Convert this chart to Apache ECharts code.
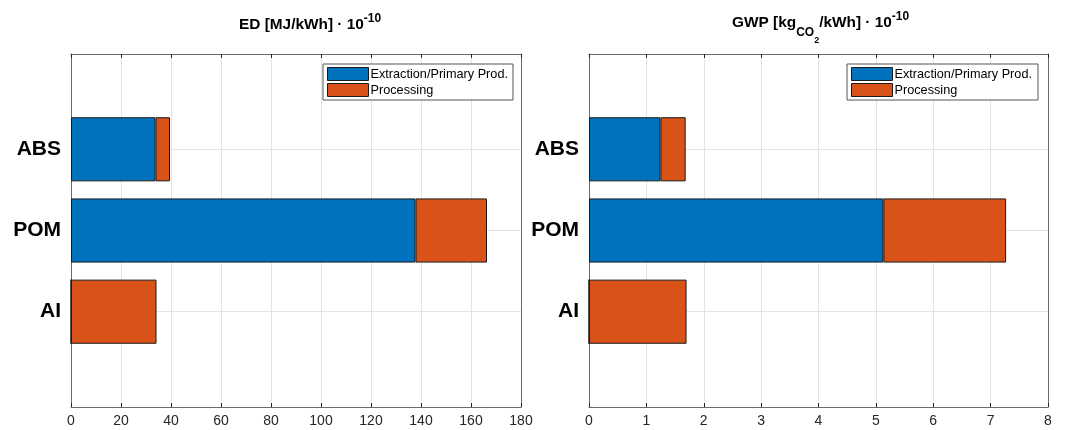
<!DOCTYPE html>
<html>
<head>
<meta charset="utf-8">
<script src="https://cdn.jsdelivr.net/npm/echarts@6/dist/echarts.min.js"></script>
<style>html,body{margin:0;padding:0;background:#fff;}#c{width:1067px;height:430px;}</style>
</head>
<body>
<div id="c"></div>
<script>
const categories = ['AI', 'POM', 'ABS'];
const seriesNames = ['Extraction/Primary Prod.', 'Processing'];
const edExtraction = [0, 137.8, 33.8];
const edProcessing = [34.2, 28.6, 5.8];
const gwpExtraction = [0, 5.13, 1.245];
const gwpProcessing = [1.70, 2.14, 0.44];
const edTicks = { min: 0, max: 180, interval: 20 };
const gwpTicks = { min: 0, max: 8, interval: 1 };

const FONT = 'Liberation Sans';
const BLUE = '#0072BD', ORANGE = '#D95319';
const AXC = '#262626', BOXC = '#6b6b6b', GRIDC = '#e3e3e3';

const chart = echarts.init(document.getElementById('c'), null, { renderer: 'canvas' });

const panels = [
  { left: 71, width: 450, ticks: edTicks, ext: edExtraction, proc: edProcessing, legendLeft: 323, legendPadR: 5 },
  { left: 589, width: 459, ticks: gwpTicks, ext: gwpExtraction, proc: gwpProcessing, legendLeft: 847, legendPadR: 6 }
];
const OUT_TOP = 54, OUT_H = 353;
const IN_TOP = 108.7, IN_H = 243.6;

const grid = [], xAxis = [], yAxis = [], series = [];
panels.forEach((p, i) => {
  grid.push({ left: p.left, width: p.width, top: OUT_TOP, height: OUT_H, containLabel: false });
  grid.push({ left: p.left, width: p.width, top: IN_TOP, height: IN_H, containLabel: false });
  const og = 2 * i, ig = 2 * i + 1;
  xAxis.push({ type: 'value', gridIndex: og, position: 'bottom', min: p.ticks.min, max: p.ticks.max, interval: p.ticks.interval,
    axisLine: { show: true, lineStyle: { color: BOXC, width: 1 } },
    axisTick: { show: true, inside: true, length: 4, lineStyle: { color: AXC } },
    axisLabel: { show: true, margin: 7, color: AXC, fontFamily: FONT, fontSize: 14 },
    splitLine: { show: true, lineStyle: { color: GRIDC, width: 1 } } });
  xAxis.push({ type: 'value', gridIndex: og, position: 'top', min: p.ticks.min, max: p.ticks.max, interval: p.ticks.interval,
    axisLine: { show: true, onZero: false, lineStyle: { color: BOXC, width: 1 } },
    axisTick: { show: true, inside: true, length: 4, lineStyle: { color: AXC } },
    axisLabel: { show: false }, splitLine: { show: false } });
  xAxis.push({ type: 'value', gridIndex: ig, min: p.ticks.min, max: p.ticks.max, interval: p.ticks.interval,
    show: false });
  yAxis.push({ type: 'value', gridIndex: og, position: 'left', min: 0, max: 1,
    axisLine: { show: true, onZero: false, lineStyle: { color: BOXC, width: 1 } },
    axisTick: { show: false }, axisLabel: { show: false }, splitLine: { show: false } });
  yAxis.push({ type: 'value', gridIndex: og, position: 'right', min: 0, max: 1,
    axisLine: { show: true, onZero: false, lineStyle: { color: BOXC, width: 1 } },
    axisTick: { show: false }, axisLabel: { show: false }, splitLine: { show: false } });
  yAxis.push({ type: 'category', gridIndex: ig, position: 'left', data: categories,
    axisLine: { show: false },
    axisTick: { show: true, inside: true, alignWithLabel: true, length: 4, lineStyle: { color: AXC } },
    axisLabel: { show: true, margin: 10, color: '#000', fontFamily: FONT, fontSize: 21, fontWeight: 'bold' },
    splitLine: { show: false } });
  yAxis.push({ type: 'category', gridIndex: ig, position: 'right', data: categories,
    axisLine: { show: false },
    axisTick: { show: true, inside: true, alignWithLabel: true, length: 4, lineStyle: { color: AXC } },
    axisLabel: { show: false }, splitLine: { show: false } });

  const xi = 3 * i + 2, yi = 4 * i + 2;
  series.push({ type: 'line', xAxisIndex: xi, yAxisIndex: yi, data: [], z: 1, silent: true,
    markLine: { silent: true, z: 1, symbol: 'none', label: { show: false }, animation: false,
      lineStyle: { color: GRIDC, width: 1, type: 'solid' },
      data: categories.map(c => ({ yAxis: c })) } });
  series.push({ type: 'bar', name: seriesNames[0], stack: 'p' + i, xAxisIndex: xi, yAxisIndex: yi,
    data: p.ext, barWidth: '79%', z: 10,
    itemStyle: { color: BLUE, borderColor: '#1a1a1a', borderWidth: 1 } });
  series.push({ type: 'bar', name: seriesNames[1], stack: 'p' + i, xAxisIndex: xi, yAxisIndex: yi,
    data: p.proc, barWidth: '79%', z: 10,
    itemStyle: { color: ORANGE, borderColor: '#1a1a1a', borderWidth: 1 } });
});

const legend = panels.map(p => ({
  data: seriesNames, orient: 'vertical', left: p.legendLeft, top: 64,
  padding: [3, p.legendPadR, 3, 4], itemGap: 2, itemWidth: 41, itemHeight: 13,
  backgroundColor: '#fff', borderColor: '#555', borderWidth: 1, borderRadius: 0,
  icon: 'rect', selectedMode: false, z: 20,
  itemStyle: { borderColor: '#1a1a1a', borderWidth: 1 },
  textStyle: { fontFamily: FONT, fontSize: 12.7, color: '#000', padding: [0, 0, 0, -3] }
}));

const richBase = { fontFamily: FONT, fontWeight: 'bold', color: '#000' };
const title = [
  { text: '{m|ED [MJ/kWh] · 10}{s|-10}', left: 239, top: 13, padding: 0,
    textStyle: { rich: {
      m: Object.assign({ fontSize: 15.4, lineHeight: 24, verticalAlign: 'middle' }, richBase),
      s: Object.assign({ fontSize: 12, lineHeight: 10, verticalAlign: 'top', padding: [0, 0, 0, 0] }, richBase) } } },
  { text: '{m|GWP [kg}{c|CO}{t|2}{m|/kWh] · 10}{s|-10}', left: 732, top: 11, padding: 0,
    textStyle: { rich: {
      m: Object.assign({ fontSize: 15.4, lineHeight: 24, verticalAlign: 'middle' }, richBase),
      c: Object.assign({ fontSize: 12, lineHeight: 10, verticalAlign: 'top', padding: [16, 0, 0, 0] }, richBase),
      t: Object.assign({ fontSize: 9, lineHeight: 10, verticalAlign: 'top', padding: [25, 0, 0, 0] }, richBase),
      s: Object.assign({ fontSize: 12, lineHeight: 10, verticalAlign: 'top', padding: [0, 0, 0, 0] }, richBase) } } }
];

chart.setOption({ animation: false, backgroundColor: '#fff', title, legend, grid, xAxis, yAxis, series });
</script>
</body>
</html>
